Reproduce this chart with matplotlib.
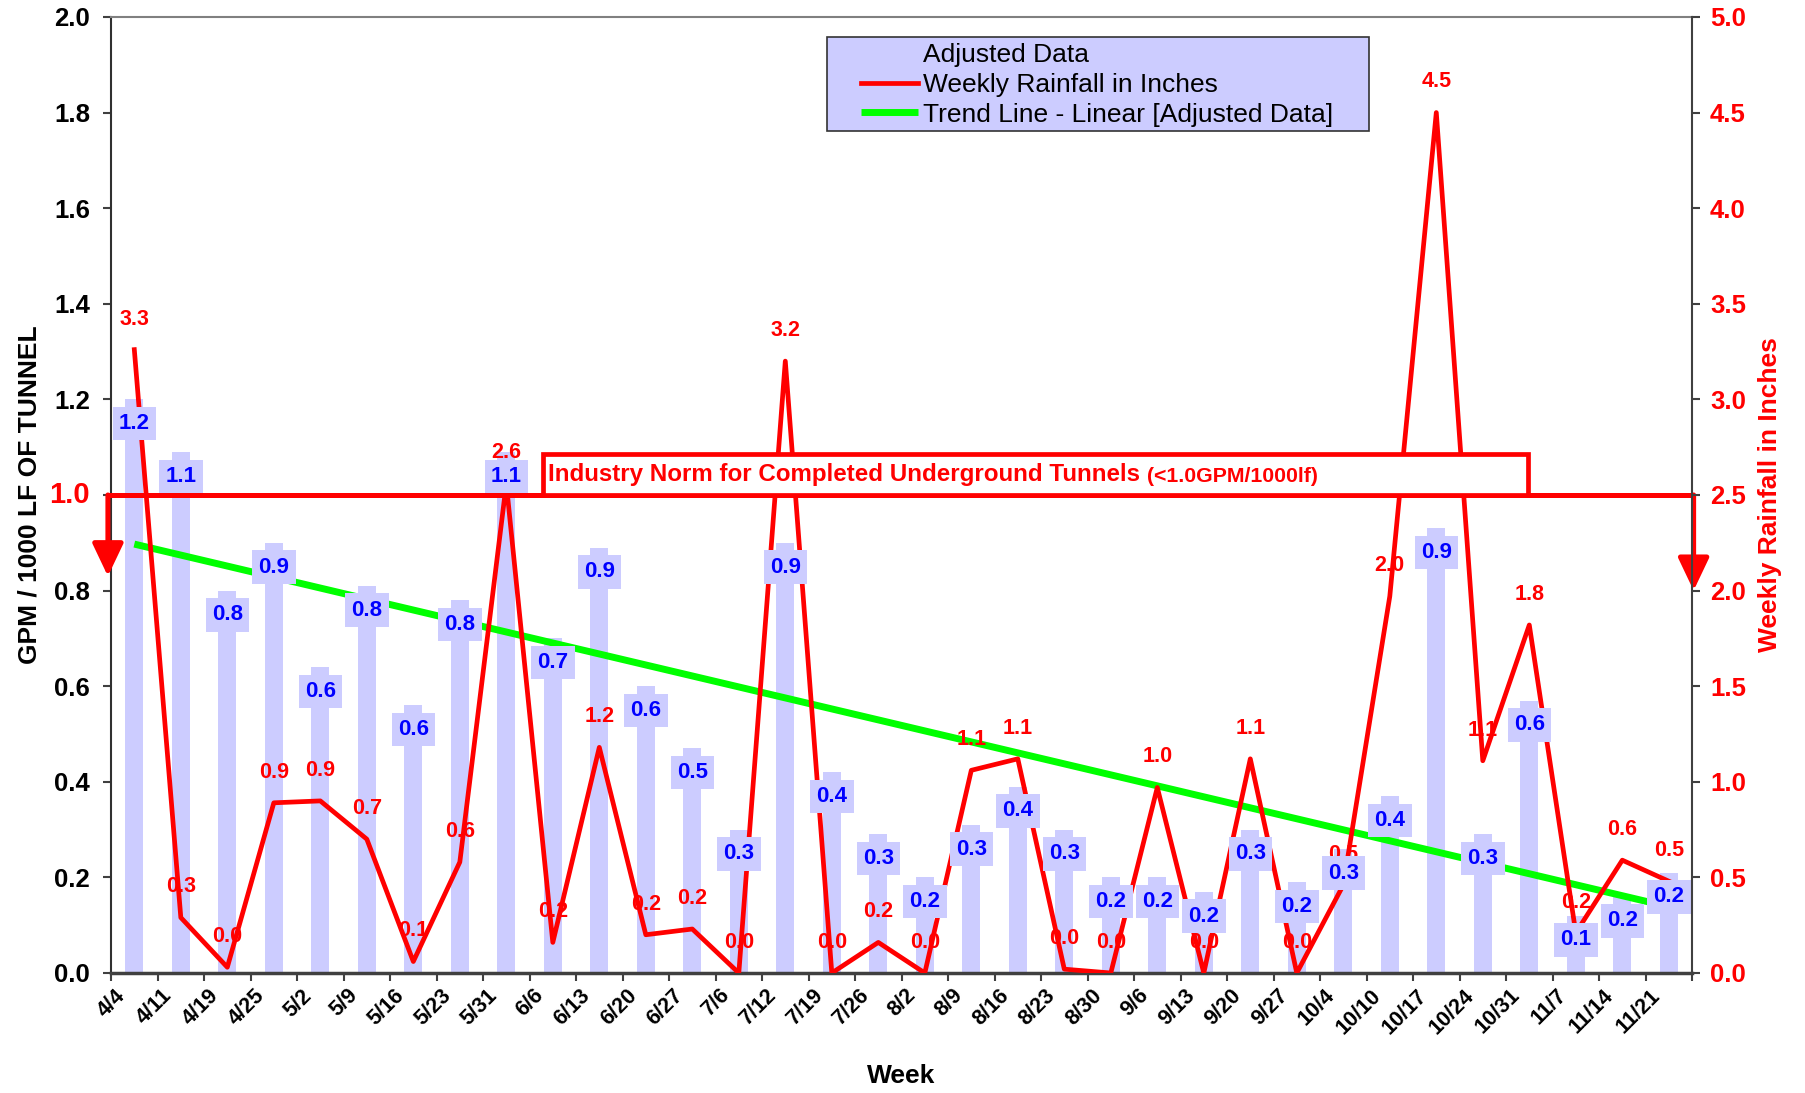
import numpy as np
import matplotlib
matplotlib.use('Agg')
import matplotlib.pyplot as plt
import matplotlib.transforms as mtransforms
from matplotlib.patches import Rectangle
from matplotlib.ticker import FuncFormatter, MultipleLocator

plt.rcParams['font.family'] = 'Liberation Sans'
plt.rcParams['font.weight'] = 'bold'
plt.rcParams['axes.labelweight'] = 'bold'

weeks = ['4/4', '4/11', '4/19', '4/25', '5/2', '5/9', '5/16', '5/23', '5/31',
         '6/6', '6/13', '6/20', '6/27', '7/6', '7/12', '7/19', '7/26', '8/2',
         '8/9', '8/16', '8/23', '8/30', '9/6', '9/13', '9/20', '9/27', '10/4',
         '10/10', '10/17', '10/24', '10/31', '11/7', '11/14', '11/21']
# GPM / 1000 LF of tunnel (adjusted data)
adjusted = [1.20, 1.09, 0.80, 0.90, 0.64, 0.81, 0.56, 0.78, 1.09, 0.70, 0.89,
            0.60, 0.47, 0.30, 0.90, 0.42, 0.29, 0.20, 0.31, 0.39, 0.30, 0.20,
            0.20, 0.17, 0.30, 0.19, 0.26, 0.37, 0.93, 0.29, 0.57, 0.12, 0.16,
            0.21]
# weekly rainfall in inches
rainfall = [3.26, 0.29, 0.03, 0.89, 0.90, 0.70, 0.06, 0.58, 2.56, 0.16, 1.18,
            0.20, 0.23, 0.00, 3.20, 0.00, 0.16, 0.00, 1.06, 1.12, 0.02, 0.00,
            0.97, 0.00, 1.12, 0.00, 0.46, 1.97, 4.50, 1.11, 1.82, 0.21, 0.59,
            0.48]
norm = 1.0

LAV = '#CCCCFF'
DARK = '#404040'

fig = plt.figure(figsize=(18.06, 10.93), dpi=100)
ax = fig.add_axes([0.0615, 0.1098, 0.8754, 0.8747])
ax2 = ax.twinx()

x = np.arange(len(weeks))
ax.set_xlim(-0.5, len(weeks) - 0.5)
ax.set_ylim(0, 2.0)
ax2.set_ylim(0, 5.0)

# bars
bars = ax.bar(x, adjusted, width=0.39, color=LAV, zorder=1)

# linear trend of adjusted data
slope, icpt = np.polyfit(x, adjusted, 1)
trend, = ax.plot(x, slope * x + icpt, color='#00FF00', lw=5.0, zorder=2,
                 solid_capstyle='butt')

# rainfall on the right scale
rain, = ax.plot(x, rainfall, color='red', lw=3.4, zorder=3,
                transform=ax2.transData)

for xi, r in zip(x, rainfall):
    ax.annotate(f'{r:.1f}', xy=(xi, r), xycoords=ax2.transData,
                xytext=(0, 22), textcoords='offset points', ha='center',
                va='center', color='red', fontsize=15.5, zorder=4)

for xi, v in zip(x, adjusted):
    ax.annotate(f'{v:.1f}', xy=(xi, v), xytext=(0, -17.5),
                textcoords='offset points', ha='center', va='center',
                color='#0000FF', fontsize=16, zorder=5,
                bbox=dict(boxstyle='square,pad=0.28', fc=LAV, ec='none'))

# industry norm line + arrows + box
ax.axhline(norm, color='red', lw=3.6, zorder=6, clip_on=False)
akw = dict(arrowstyle='-|>,head_length=2.0,head_width=0.95', mutation_scale=10,
           color='red', lw=3.6, shrinkA=0, shrinkB=0)
ax.annotate('', xy=(-0.002, 0.83), xytext=(-0.002, norm),
            xycoords=('axes fraction', 'data'), arrowprops=akw,
            annotation_clip=False, zorder=6)
ax.annotate('', xy=(1.001, 2.0), xytext=(1.001, norm * 2.5),
            xycoords=('axes fraction', ax2.transData), arrowprops=akw,
            annotation_clip=False, zorder=6)

ax.add_patch(Rectangle((8.79, norm), 29.97 - 8.79, 0.086, fc='white',
                       ec='red', lw=3.4, zorder=7))
t1 = ax.text(8.90, norm + 0.030, 'Industry Norm for Completed Underground Tunnels ',
             color='red', fontsize=17.4, ha='left', va='baseline', zorder=8)
ax.annotate('(<1.0GPM/1000lf)', xy=(1, 0), xycoords=t1, ha='left',
            va='bottom', color='red', fontsize=15.3, zorder=8)

# left axis
ax.yaxis.set_major_locator(MultipleLocator(0.2))
ax.yaxis.set_major_formatter(
    FuncFormatter(lambda v, p: '' if abs(v - norm) < 1e-9 else f'{v:.1f}'))
ax.tick_params(axis='y', length=6, width=1.5, pad=9, labelsize=18.5,
               color=DARK)
ax.annotate(f'{norm:.1f}', xy=(0, norm), xycoords=('axes fraction', 'data'),
            xytext=(-15, 0), textcoords='offset points', ha='right',
            va='center', color='red', fontsize=21, annotation_clip=False)
ax.set_ylabel('GPM / 1000 LF OF TUNNEL', fontsize=19)
ax.yaxis.set_label_coords(-0.044, 0.5)

# right axis
ax2.yaxis.set_major_locator(MultipleLocator(0.5))
ax2.yaxis.set_major_formatter(FuncFormatter(lambda v, p: f'{v:.1f}'))
ax2.tick_params(axis='y', length=6, width=1.5, pad=7, labelsize=18.5,
                labelcolor='red', color=DARK)
ax2.set_ylabel('Weekly Rainfall in Inches', fontsize=19, color='red')
ax2.yaxis.set_label_coords(1.042, 0.5)

# x axis
ax.set_xticks(x)
ax.set_xticklabels(weeks, rotation=45, ha='right', va='center',
                   rotation_mode='anchor')
ax.set_xticks(np.arange(-0.5, len(weeks), 1), minor=True)
ax.tick_params(axis='x', which='major', length=0, pad=14, labelsize=15.5)
ax.tick_params(axis='x', which='minor', length=6, width=1.5, color=DARK)
offset = mtransforms.ScaledTranslation(-0.12, 0, fig.dpi_scale_trans)
for lab in ax.get_xticklabels():
    lab.set_transform(lab.get_transform() + offset)
ax.set_xlabel('Week', fontsize=19)
ax.xaxis.set_label_coords(0.5, -0.095)

# spines
for sp in ['left', 'top', 'bottom']:
    ax2.spines[sp].set_visible(False)
ax.spines['right'].set_visible(False)
ax.spines['top'].set_color('#808080')
ax.spines['top'].set_linewidth(1.5)
ax.spines['left'].set_color('#303030')
ax.spines['left'].set_linewidth(1.5)
ax.spines['bottom'].set_color(DARK)
ax.spines['bottom'].set_linewidth(2.5)
ax2.spines['right'].set_color(DARK)
ax2.spines['right'].set_linewidth(1.5)

# legend
fig.add_artist(Rectangle((827 / 1806, 1 - 131 / 1093), 542 / 1806, 94 / 1093,
                         transform=fig.transFigure, fc=LAV, ec='#333333',
                         lw=1.2, zorder=3))
fig.legend([bars, rain, trend],
           ['Adjusted Data', 'Weekly Rainfall in Inches',
            'Trend Line - Linear [Adjusted Data]'],
           loc='upper left', bbox_to_anchor=(861 / 1806, 1 - 43 / 1093),
           frameon=False, borderpad=0, borderaxespad=0, handlelength=2.15,
           handletextpad=0.2, labelspacing=0.22,
           prop={'size': 19, 'weight': 'normal'})

fig.savefig('out.png', dpi=100)
